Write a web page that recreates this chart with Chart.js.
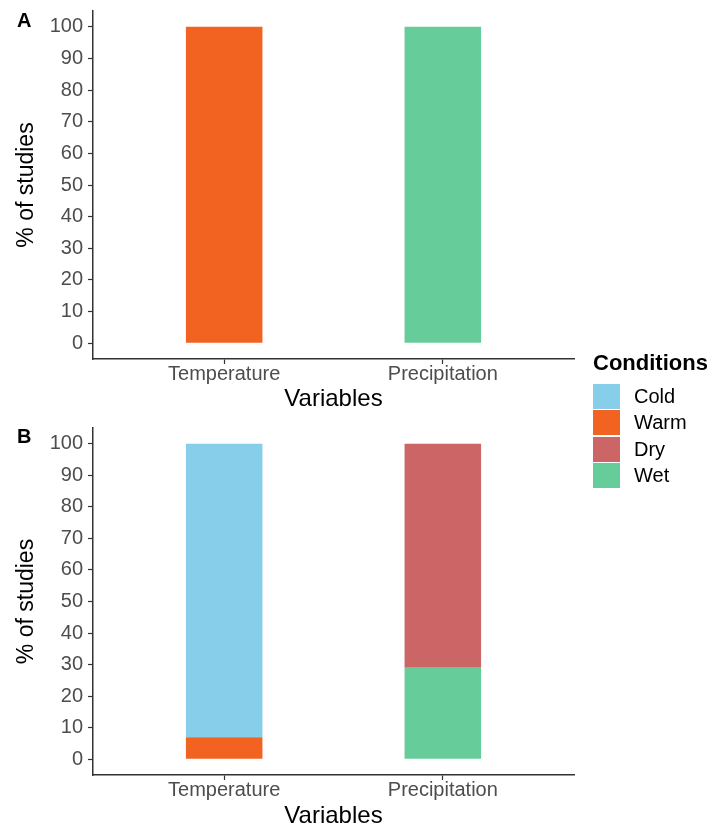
<!DOCTYPE html>
<html>
<head>
<meta charset="utf-8">
<script src="https://cdn.jsdelivr.net/npm/chart.js@4/dist/chart.umd.min.js"></script>
<style>
  html, body { margin: 0; padding: 0; background: #fff; overflow: hidden; }
  body { width: 715px; height: 825px; position: relative; font-family: "Liberation Sans", Arial, sans-serif; }
  #panelA { position: absolute; left: 0; top: 0; }
  #panelB { position: absolute; left: 0; top: 412px; }
  #legend { position: absolute; left: 593px; top: 352px; }
  #legend .title { font-weight: bold; font-size: 22px; line-height: 22px; color: #000; margin-bottom: 9px; }
  #legend .row { display: flex; align-items: center; height: 26.5px; }
  #legend .key { width: 27px; height: 25px; }
  #legend .label { margin-left: 14px; font-size: 20px; color: #000; }
</style>
</head>
<body>
<canvas id="panelA" width="715" height="412"></canvas>
<canvas id="panelB" width="715" height="420"></canvas>
<div id="legend"></div>
<script>
const variables = ['Temperature', 'Precipitation'];
const conditions = ['Cold', 'Warm', 'Dry', 'Wet'];
const conditionColors = ['#87CEEB', '#F26322', '#CC6666', '#66CC99'];
const yTicks = [0, 10, 20, 30, 40, 50, 60, 70, 80, 90, 100];

// panel A: % of studies per condition
const coldA = [0, 0];
const warmA = [100, 0];
const dryA = [0, 0];
const wetA = [0, 100];

// panel B
const coldB = [93, 0];
const warmB = [7, 0];
const dryB = [0, 71];
const wetB = [0, 29];

const FONT = '"Liberation Sans", Arial, sans-serif';
const stackOrder = ['Warm', 'Wet', 'Cold', 'Dry']; // bottom to top

function toPoints(values) {
  return values.map((v, i) => ({ x: i + 1, y: v === 0 ? null : v }));
}

function panelLabel(text, y) {
  return {
    id: 'panelLabel',
    afterDraw(chart) {
      const ctx = chart.ctx;
      ctx.save();
      ctx.font = 'bold 20px ' + FONT;
      ctx.fillStyle = '#000';
      ctx.textBaseline = 'alphabetic';
      ctx.fillText(text, 17, y);
      ctx.restore();
    }
  };
}

function makePanel(id, series, cfg) {
  const datasets = stackOrder.map(name => {
    const k = conditions.indexOf(name);
    return {
      label: name,
      data: toPoints(series[name]),
      backgroundColor: conditionColors[k],
      borderWidth: 0,
      stack: 'all',
      categoryPercentage: 1,
      barPercentage: 0.35
    };
  });

  return new Chart(id, {
    type: 'bar',
    data: { datasets },
    options: {
      responsive: false,
      animation: false,
      layout: { padding: { top: cfg.top, right: 141, left: 0, bottom: 0 } },
      plugins: { legend: { display: false }, tooltip: { enabled: false } },
      scales: {
        x: {
          type: 'linear',
          min: 0.4,
          max: 2.6,
          offset: false,
          afterBuildTicks: scale => { scale.ticks = variables.map((_, i) => ({ value: i + 1 })); },
          afterFit: scale => { scale.height = cfg.xHeight; },
          border: { display: true, color: '#333', width: 1.5 },
          grid: { offset: false, drawOnChartArea: false, drawTicks: true, tickLength: 5, color: '#333', tickWidth: 1.2 },
          ticks: {
            callback: v => variables[v - 1],
            color: '#4D4D4D',
            font: { family: FONT, size: 20, lineHeight: 1 },
            padding: 0,
            maxRotation: 0,
            autoSkip: false
          },
          title: {
            display: true,
            text: 'Variables',
            color: '#000',
            font: { family: FONT, size: 24, lineHeight: 1.2 },
            padding: { top: 0, bottom: cfg.xTitlePad }
          }
        },
        y: {
          min: -5,
          max: 105,
          stacked: true,
          afterBuildTicks: scale => { scale.ticks = yTicks.map(v => ({ value: v })); },
          afterFit: scale => {
            scale.width = 93;
            scale.paddingTop = 0;
            scale.paddingBottom = 0;
          },
          border: { display: true, color: '#333', width: 1.5 },
          grid: { drawOnChartArea: false, drawTicks: true, tickLength: 5, color: '#333', tickWidth: 1.2 },
          ticks: {
            color: '#4D4D4D',
            font: { family: FONT, size: 20, lineHeight: 1 },
            padding: 5
          },
          title: {
            display: true,
            text: '% of studies',
            color: '#000',
            font: { family: FONT, size: 23, lineHeight: 1.2 },
            padding: { top: 13, bottom: 0 }
          }
        }
      }
    },
    plugins: [panelLabel(cfg.label, cfg.labelY)]
  });
}

makePanel('panelA',
  { Cold: coldA, Warm: warmA, Dry: dryA, Wet: wetA },
  { label: 'A', labelY: 27, top: 11, xHeight: 53, xTitlePad: -2 });

makePanel('panelB',
  { Cold: coldB, Warm: warmB, Dry: dryB, Wet: wetB },
  { label: 'B', labelY: 31, top: 16, xHeight: 57, xTitlePad: 1 });

// shared legend
const legend = document.getElementById('legend');
legend.innerHTML = '<div class="title">Conditions</div>' +
  conditions.map((c, i) =>
    '<div class="row"><div class="key" style="background:' + conditionColors[i] + '"></div>' +
    '<span class="label">' + c + '</span></div>').join('');
</script>
</body>
</html>
